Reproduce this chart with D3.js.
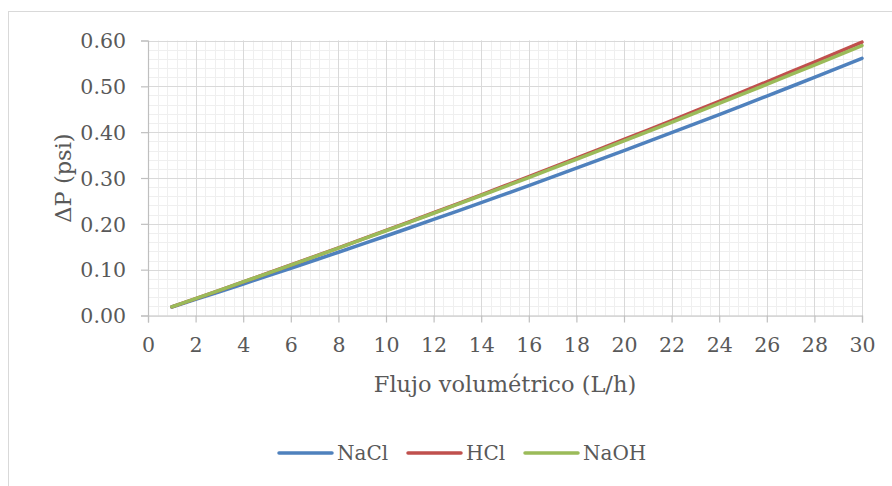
<!DOCTYPE html>
<html>
<head>
<meta charset="utf-8">
<script src="https://cdn.jsdelivr.net/npm/d3@7"></script>
<style>
  html, body { margin: 0; padding: 0; background: #fff; }
  svg { display: block; }
  text { font-family: "DejaVu Serif", "Liberation Serif", serif; fill: #595959; }
</style>
</head>
<body>
<svg id="chart" width="892" height="486"></svg>
<script>
// Volumetric flow (L/h)
const flow = [1,2,3,4,5,6,7,8,9,10,11,12,13,14,15,16,17,18,19,20,21,22,23,24,25,26,27,28,29,30];

// Pressure drop (psi) per solution
const naclDP = [0.0185,0.0351,0.0519,0.0688,0.0859,0.1031,0.1205,0.1380,0.1557,0.1735,
                0.1915,0.2096,0.2278,0.2462,0.2648,0.2835,0.3024,0.3214,0.3405,0.3598,
                0.3793,0.3989,0.4186,0.4385,0.4586,0.4788,0.4991,0.5196,0.5402,0.5610];
const hclDP  = [0.0190,0.0370,0.0550,0.0733,0.0917,0.1102,0.1288,0.1476,0.1665,0.1856,
                0.2048,0.2242,0.2437,0.2633,0.2831,0.3030,0.3231,0.3432,0.3636,0.3841,
                0.4047,0.4254,0.4463,0.4673,0.4885,0.5098,0.5313,0.5529,0.5746,0.5965];
const naohDP = [0.0190,0.0369,0.0550,0.0732,0.0915,0.1099,0.1285,0.1472,0.1660,0.1849,
                0.2039,0.2231,0.2424,0.2618,0.2813,0.3010,0.3208,0.3407,0.3607,0.3808,
                0.4011,0.4215,0.4420,0.4626,0.4834,0.5043,0.5253,0.5464,0.5676,0.5890];

const seriesNames = ["NaCl", "HCl", "NaOH"];
const seriesValues = [naclDP, hclDP, naohDP];
const seriesColors = ["#4F81BD", "#C0504D", "#9BBB59"];

const xTicks = [0,2,4,6,8,10,12,14,16,18,20,22,24,26,28,30];
const yTicks = [0,0.1,0.2,0.3,0.4,0.5,0.6];

const xTitle = "Flujo volumétrico (L/h)";
const yTitle = "ΔP (psi)";

const svg = d3.select("#chart");

// outer chart frame
svg.append("rect")
  .attr("x", 8.5).attr("y", 11.5)
  .attr("width", 1000).attr("height", 1000)
  .attr("fill", "#fff").attr("stroke", "#d9d9d9").attr("stroke-width", 1);

const plot = { left: 148, right: 862, top: 40.5, bottom: 315.5 };

const x = d3.scaleLinear().domain([0, 30]).range([plot.left, plot.right]);
const y = d3.scaleLinear().domain([0, 0.6]).range([plot.bottom, plot.top]);

const g = svg.append("g");

// minor gridlines
const minorX = d3.range(0, 30.0001, 0.4);
const minorY = d3.range(0, 0.6001, 0.02);
g.append("g").selectAll("line").data(minorX).join("line")
  .attr("x1", d => Math.round(x(d)) + 0.5).attr("x2", d => Math.round(x(d)) + 0.5)
  .attr("y1", plot.top).attr("y2", plot.bottom)
  .attr("stroke", "#efefef").attr("stroke-width", 1);
g.append("g").selectAll("line").data(minorY).join("line")
  .attr("y1", d => Math.round(y(d)) + 0.5).attr("y2", d => Math.round(y(d)) + 0.5)
  .attr("x1", plot.left).attr("x2", plot.right)
  .attr("stroke", "#efefef").attr("stroke-width", 1);

// major gridlines
g.append("g").selectAll("line").data(xTicks.slice(1)).join("line")
  .attr("x1", d => Math.round(x(d)) + 0.5).attr("x2", d => Math.round(x(d)) + 0.5)
  .attr("y1", plot.top).attr("y2", plot.bottom)
  .attr("stroke", "#d9d9d9").attr("stroke-width", 1);
g.append("g").selectAll("line").data(yTicks.slice(1)).join("line")
  .attr("y1", d => Math.round(y(d)) + 0.5).attr("y2", d => Math.round(y(d)) + 0.5)
  .attr("x1", plot.left).attr("x2", plot.right)
  .attr("stroke", "#d9d9d9").attr("stroke-width", 1);

// axes
const xAxis = d3.axisBottom(x).tickValues(xTicks).tickSize(7).tickPadding(15)
  .tickFormat(d3.format("d"));
const yAxis = d3.axisLeft(y).tickValues(yTicks).tickSize(7).tickPadding(15)
  .tickFormat(d3.format(".2f"));

const gx = svg.append("g").attr("transform", `translate(0,${plot.bottom})`).call(xAxis);
const gy = svg.append("g").attr("transform", `translate(${plot.left},0)`).call(yAxis);
[gx, gy].forEach(a => {
  a.select(".domain").attr("stroke", "#bfbfbf").attr("stroke-width", 1.2);
  a.selectAll(".tick line").attr("stroke", "#bfbfbf").attr("stroke-width", 1.2);
  a.selectAll(".tick text")
    .attr("fill", "#595959")
    .style("font-family", "'DejaVu Serif', serif")
    .style("font-size", "20.5px");
});
gy.selectAll(".tick text").attr("dy", "0.35em");

// series lines
const line = d3.line().x((d, i) => x(flow[i])).y(d => y(d));
const lines = svg.append("g");
seriesValues.forEach((vals, k) => {
  lines.append("path")
    .datum(vals)
    .attr("d", line)
    .attr("fill", "none")
    .attr("stroke", seriesColors[k])
    .attr("stroke-width", 3.5)
    .attr("stroke-linecap", "round")
    .attr("stroke-linejoin", "round");
});

// axis titles
svg.append("text")
  .attr("x", (plot.left + plot.right) / 2).attr("y", 392)
  .attr("text-anchor", "middle")
  .style("font-size", "22.5px")
  .text(xTitle);
svg.append("text")
  .attr("transform", `translate(71,${(plot.top + plot.bottom) / 2}) rotate(-90)`)
  .attr("text-anchor", "middle")
  .style("font-size", "22.5px")
  .text(yTitle);

// legend
const legendX = [279, 408, 525];
const legend = svg.append("g");
seriesNames.forEach((name, k) => {
  legend.append("line")
    .attr("x1", legendX[k]).attr("x2", legendX[k] + 53)
    .attr("y1", 453).attr("y2", 453)
    .attr("stroke", seriesColors[k]).attr("stroke-width", 3.5)
    .attr("stroke-linecap", "round");
  legend.append("text")
    .attr("x", legendX[k] + 58).attr("y", 460)
    .style("font-size", "20px")
    .text(name);
});
</script>
</body>
</html>
